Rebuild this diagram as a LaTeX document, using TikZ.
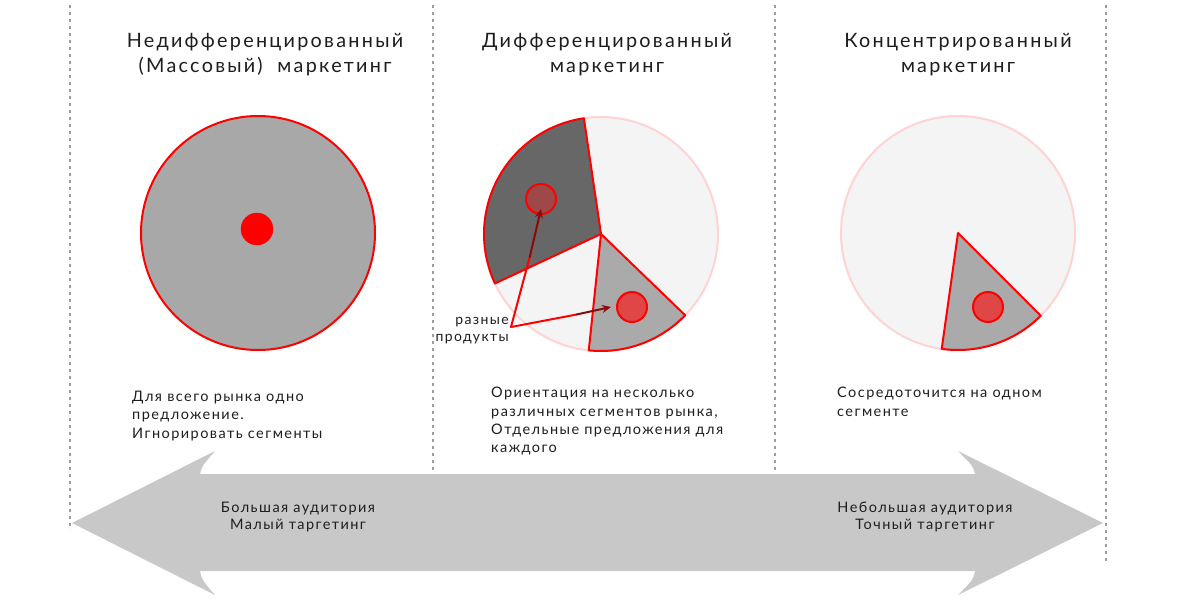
\documentclass[tikz,border=0pt]{standalone}
\usepackage{fontspec}
\setmainfont{Lato}
\newfontfamily\titlefont[LetterSpace=11.5]{Lato}
\newfontfamily\bodyfont[LetterSpace=10]{Lato}
\usetikzlibrary{arrows.meta,calc}
\definecolor{dashgray}{HTML}{9C9C9C}
\definecolor{arrowgray}{HTML}{C8C8C8}
\definecolor{piebg}{HTML}{F4F4F4}
\definecolor{pieedge}{HTML}{FFD3D3}
\definecolor{darkseg}{HTML}{676767}
\definecolor{midseg}{HTML}{AAAAAA}
\definecolor{bigfill}{HTML}{A8A8A8}
\definecolor{dotdark}{HTML}{9E4848}
\definecolor{dotlight}{HTML}{E04646}
\definecolor{pointer}{HTML}{8B0A0A}
\definecolor{txt}{HTML}{1E1E1E}
\tikzset{
  sepline/.style={dashgray, line width=1.6pt, dash pattern=on 3pt off 4pt},
  titletext/.style={text=txt, align=center, inner sep=0pt, font=\titlefont\fontsize{19.8}{25}\selectfont},
  bodytext/.style={text=txt, align=left, inner sep=0pt, anchor=north west, font=\bodyfont\fontsize{14.5}{18.3}\selectfont},
  arrowtext/.style={text=txt, align=center, inner sep=0pt, font=\bodyfont\fontsize{14.5}{17}\selectfont},
  segline/.style={red, line width=2pt, line join=round},
  dotstyle/.style={circle, draw=red, line width=2pt, minimum size=30pt, inner sep=0pt},
  ptr/.style={red, line width=2pt},
  ptrtip/.style={pointer, line width=2pt, -{Stealth[length=9pt,width=8pt]}}
}
\begin{document}
\begin{tikzpicture}[x=1pt,y=-1pt]
\useasboundingbox (0,0) rectangle (1200,600);
\fill[white] (0,0) rectangle (1200,600);

% separators
\draw[sepline] (70,5) -- (70,530);
\draw[sepline] (433,5) -- (433,474);
\draw[sepline] (775,5) -- (775,474);
\draw[sepline] (1106,5) -- (1106,562);

% big double arrow
\fill[arrowgray] (72,523) -- (215,451) .. controls (202,466) .. (200,474)
  -- (975,474) .. controls (973,466) .. (958,451) -- (1103,523) -- (958,595)
  .. controls (973,580) .. (975,571) -- (200,571) .. controls (202,580) .. (215,595) -- cycle;

% titles
\node[titletext] (title1) at (265,55) {Недифференцированный\\(Массовый)\ \ маркетинг};
\node[titletext] (title2) at (607,55) {Дифференцированный\\маркетинг};
\node[titletext] (title3) at (958,55) {Концентрированный\\маркетинг};

% left circle
\draw[red, line width=2pt, fill=bigfill] (258,233) circle[radius=117];
\node[circle, fill=red, draw=red, minimum size=32pt, inner sep=0pt] (dot1) at (257,229) {};

% middle pie
\begin{scope}[shift={(601,234)}, x=1pt, y=1pt]
  \draw[pieedge, line width=2pt, fill=piebg] (0,0) circle[radius=117];
  \draw[segline, fill=darkseg] (0,0) -- (98.4:117) arc[start angle=98.4, end angle=205, radius=117] -- cycle;
  \draw[segline, fill=midseg] (0,0) -- (264:117) arc[start angle=264, end angle=316, radius=117] -- cycle;
\end{scope}
\node[dotstyle, fill=dotdark] (dot2) at (541,199) {};
\node[dotstyle, fill=dotlight] (dot3) at (632,307) {};

% pointers
\node[text=txt, align=right, inner sep=0pt, anchor=east, font=\bodyfont\fontsize{14}{17}\selectfont] (lbl) at (509,331) {разные\\продукты};
\coordinate (pp) at (511,327);
\coordinate (tipa) at ($(pp)!0.62!(dot2.south)$);
\coordinate (tipb) at ($(pp)!0.62!(dot3.west)$);
\draw[ptr, line cap=round] (pp) -- (tipa);
\draw[ptr, line cap=round] (pp) -- (tipb);
\draw[ptrtip] (tipa) -- ([yshift=6pt]dot2.south);
\draw[ptrtip] (tipb) -- ([xshift=-5pt]dot3.west);

% right pie
\begin{scope}[shift={(958,233)}, x=1pt, y=1pt]
  \draw[pieedge, line width=2pt, fill=piebg] (0,0) circle[radius=117];
  \draw[segline, fill=midseg] (0,0) -- (262:117) arc[start angle=262, end angle=315, radius=117] -- cycle;
\end{scope}
\node[dotstyle, fill=dotlight] (dot4) at (988,307) {};

% body texts
\node[bodytext] (body1) at (132,391) {Для\ всего\ рынка\ одно\\предложение.\\Игнорировать\ сегменты};
\node[bodytext] (body2) at (491,387) {Ориентация\ на\ несколько\\различных\ сегментов\ рынка,\\Отдельные\ предложения\ для\\каждого};
\node[bodytext] (body3) at (837,387) {Сосредоточится\ на\ одном\\сегменте};

% arrow texts
\node[arrowtext] (arrL) at (298,517) {Большая\ аудитория\\Малый\ таргетинг};
\node[arrowtext] (arrR) at (925,517) {Небольшая\ аудитория\\Точный\ таргетинг};
\end{tikzpicture}
\end{document}
